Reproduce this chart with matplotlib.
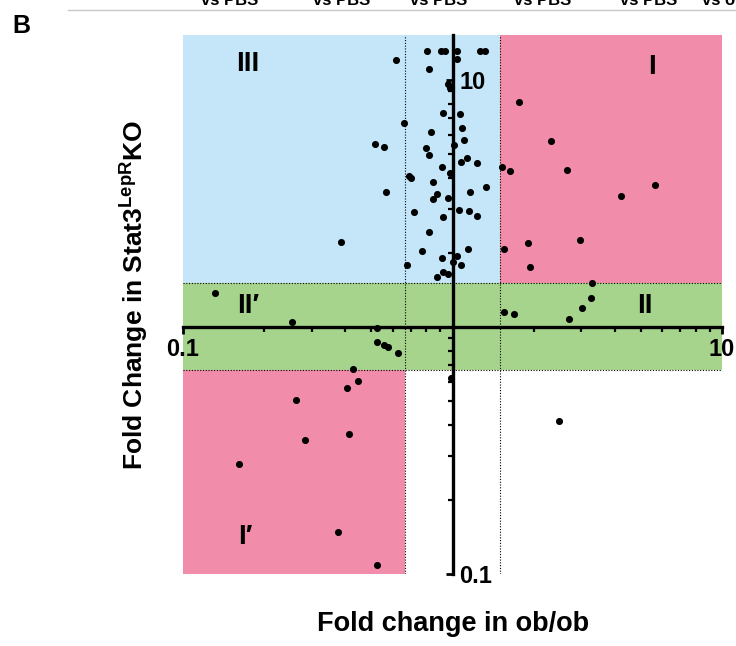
import matplotlib
matplotlib.use("Agg")
import matplotlib.pyplot as plt
from matplotlib.ticker import LogLocator, NullFormatter
from matplotlib.lines import Line2D

plt.rcParams['font.family'] = ['Liberation Sans', 'DejaVu Sans']
plt.rcParams['mathtext.fontset'] = 'custom'
plt.rcParams['mathtext.bf'] = 'Liberation Sans:bold'
plt.rcParams['mathtext.rm'] = 'Liberation Sans:bold'

# fold change in ob/ob (x) vs fold change in Stat3 LepR KO (y)
ob_fc = [0.804, 0.906, 0.938, 1.039, 1.265, 1.320, 0.617, 1.039, 0.818, 0.962,
         0.979, 1.765, 0.922, 1.066, 0.661, 1.085, 0.832, 1.103, 2.32, 1.013,
         0.516, 0.557, 0.797, 0.818, 1.132, 1.075, 1.233, 0.914, 1.526, 1.635,
         2.66, 0.979, 0.690, 0.702, 0.847, 1.331, 5.64, 1.161, 0.567, 4.22,
         0.876, 0.847, 0.962, 0.720, 1.057, 1.151, 0.922, 1.233, 0.818, 1.905,
         2.97, 0.386, 0.770, 1.142, 1.553, 0.914, 1.039, 1.004, 1.075, 0.678,
         1.940, 0.922, 0.962, 0.876, 3.29, 0.1315, 3.27, 3.02, 1.553, 1.691,
         2.71, 0.254, 0.525, 0.525, 0.557, 0.576, 0.628, 0.427, 0.987, 0.446,
         0.406, 0.263, 0.413, 0.284, 0.161, 0.376, 0.525, 2.48]
ko_fc = [13.1, 13.1, 13.1, 13.1, 13.1, 13.1, 12.05, 12.2, 11.08, 9.63,
         9.28, 8.15, 7.35, 7.28, 6.70, 6.39, 6.16, 5.71, 5.66, 5.46,
         5.51, 5.36, 5.31, 4.97, 4.83, 4.66, 4.61, 4.44, 4.44, 4.28,
         4.32, 4.20, 4.09, 4.01, 3.86, 3.69, 3.76, 3.52, 3.52, 3.39,
         3.46, 3.30, 3.33, 2.92, 2.98, 2.95, 2.79, 2.81, 2.42, 2.19,
         2.25, 2.21, 2.03, 2.07, 2.07, 1.90, 1.94, 1.83, 1.78, 1.78,
         1.75, 1.67, 1.64, 1.59, 1.51, 1.37, 1.31, 1.19, 1.15, 1.13,
         1.08, 1.05, 0.99, 0.87, 0.846, 0.83, 0.785, 0.676, 0.622, 0.605,
         0.566, 0.506, 0.369, 0.349, 0.279, 0.148, 0.109, 0.416]

LOW, HIGH = 1 / 1.5, 1.5
XMIN, XMAX = 0.1, 10
YMIN, YMAX = 0.1, 15.2

BLUE = '#c4e6f8'
PINK = '#f18dab'
GREEN = '#a7d48c'

W, H = 736, 646


def px(x, y):
    return x / W, 1 - y / H


fig = plt.figure(figsize=(W / 100, H / 100), dpi=100)
ax = fig.add_axes([183 / W, 1 - 574 / H, 539 / W, 539 / H])
ax.set_xscale('log')
ax.set_yscale('log')
ax.set_xlim(XMIN, XMAX)
ax.set_ylim(YMIN, YMAX)
ax.patch.set_visible(False)

# quadrant shading
ax.fill_between([XMIN, HIGH], HIGH, YMAX, color=BLUE, lw=0, zorder=0)
ax.fill_between([HIGH, XMAX], HIGH, YMAX, color=PINK, lw=0, zorder=0)
ax.fill_between([XMIN, XMAX], LOW, HIGH, color=GREEN, lw=0, zorder=0)
ax.fill_between([XMIN, LOW], YMIN, LOW, color=PINK, lw=0, zorder=0)

dots = (0, (1, 1.5))
for v in (LOW, HIGH):
    ax.axvline(v, color='black', lw=0.8, ls=dots, zorder=1)
    ax.axhline(v, color='black', lw=0.8, ls=dots, zorder=1)

ax.scatter(ob_fc, ko_fc, s=26, color='black', lw=0, zorder=4, clip_on=False)

# axes crossing at 1
for s in ('left', 'top'):
    ax.spines[s].set_visible(False)
ax.spines['bottom'].set_position(('data', 1))
ax.spines['bottom'].set_bounds(XMIN, XMAX)
ax.spines['right'].set_position(('data', 1))
ax.spines['right'].set_bounds(YMIN, YMAX)
for s in ('bottom', 'right'):
    ax.spines[s].set_linewidth(2.4)
    ax.spines[s].set_zorder(3)

ax.xaxis.set_ticks_position('bottom')
ax.yaxis.set_ticks_position('right')
ax.set_xticks([0.1, 10], labels=['0.1', '10'])
ax.set_yticks([0.1, 10], labels=['0.1', '10'])
for axis in (ax.xaxis, ax.yaxis):
    axis.set_minor_locator(LogLocator(base=10, subs=range(2, 10)))
    axis.set_minor_formatter(NullFormatter())
ax.tick_params(axis='x', which='major', direction='out', length=5, width=2, pad=3,
               labelsize=17)
ax.tick_params(axis='x', which='minor', direction='out', length=3.5, width=1.6)
ax.tick_params(axis='y', which='major', direction='in', length=5, width=2, pad=5,
               labelsize=17, labelright=True, labelleft=False)
ax.tick_params(axis='y', which='minor', direction='in', length=3.5, width=1.6)
for lab in ax.get_xticklabels() + ax.get_yticklabels():
    lab.set_fontweight('bold')

# quadrant names
for txt, (x, y) in [('III', (248, 64)), ('I', (652, 67)), ('II\u2032', (248, 306)),
                    ('II', (645, 306)), ('I\u2032', (245, 537))]:
    fig.text(*px(x, y), txt, fontsize=20, fontweight='bold', ha='center', va='center')

fig.text(*px(453, 624), 'Fold change in ob/ob', fontsize=19.5, fontweight='bold',
         ha='center', va='center')
fig.text(*px(134, 295), r'Fold Change in Stat3$^{\mathbf{LepR}}$KO', fontsize=19,
         fontweight='bold', rotation=90, ha='center', va='center')

# panel letter and the cut-off strip of the previous panel
fig.text(*px(12, 33), 'B', fontsize=18, fontweight='bold', ha='left', va='baseline')
fig.add_artist(Line2D([68 / W, 1], [1 - 10 / H] * 2, color='#c8c8c8', lw=1))
for x in (230, 342, 439, 543, 649):
    fig.text(*px(x, 5), 'vs PBS', fontsize=12, fontweight='bold', ha='center',
             va='baseline')
fig.text(*px(702, 5), 'vs ob/ob', fontsize=12, fontweight='bold', ha='left',
         va='baseline')

fig.savefig('out.png', dpi=100)
